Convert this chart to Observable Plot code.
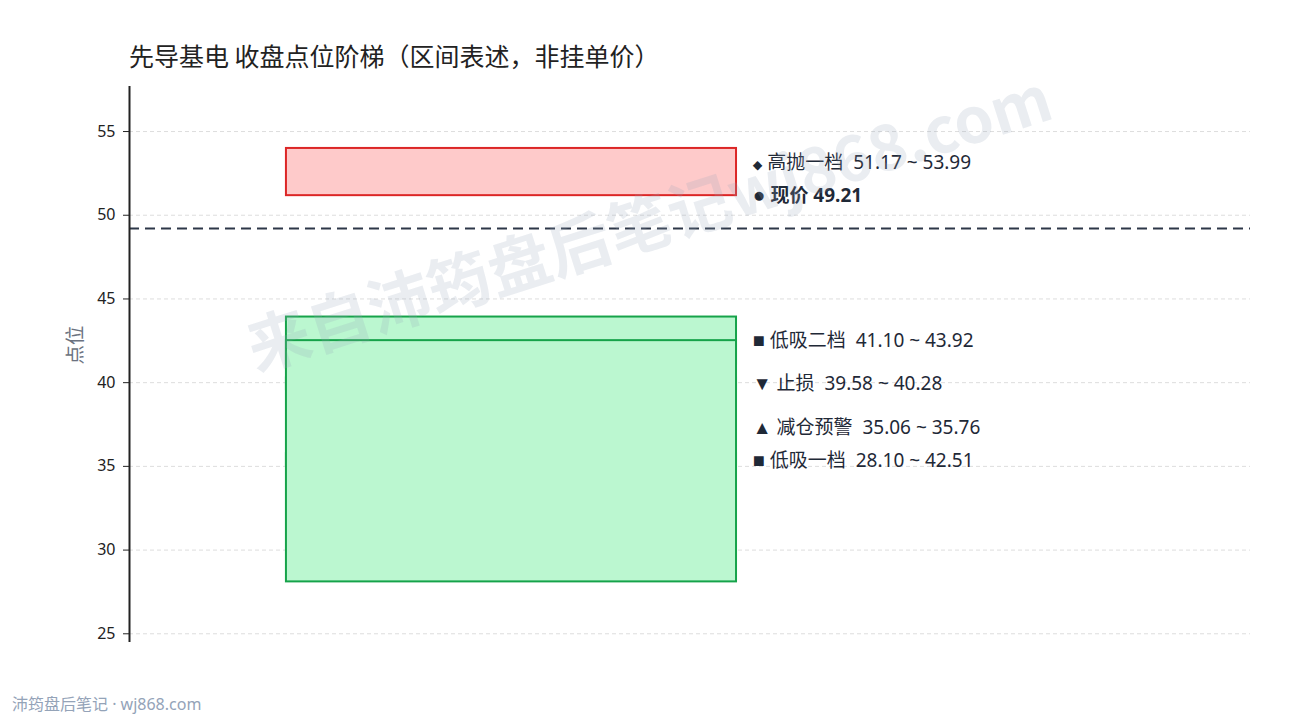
<!DOCTYPE html>
<html>
<head>
<meta charset="utf-8">
<script src="https://cdn.jsdelivr.net/npm/d3@7"></script>
<script src="https://cdn.jsdelivr.net/npm/@observablehq/plot@0.6"></script>
<style>
  html, body { margin: 0; padding: 0; background: #fff; }
  #wrap { position: relative; width: 1290px; height: 720px; overflow: hidden; font-family: "Noto Sans", "Noto Sans CJK SC", sans-serif; }
  #title { position: absolute; left: 129px; top: 40px; font-size: 25px; color: #222; white-space: nowrap; line-height: 1.2; font-family: "Noto Sans CJK SC", sans-serif; }
  #chart { position: absolute; left: 0; top: 80px; }
  #footer { position: absolute; left: 12px; top: 695px; font-size: 16px; color: #94a3b8; white-space: nowrap; line-height: 1.2; }
</style>
</head>
<body>
<div id="wrap">
  <div id="title">先导基电 收盘点位阶梯（区间表述，非挂单价）</div>
  <div id="chart"></div>
  <div id="footer">沛筠盘后笔记 · wj868.com</div>
</div>
<script>
// ---- data ----
const levelNames   = ["高抛一档", "低吸二档", "止损", "减仓预警", "低吸一档"];
const levelLow     = [51.17, 41.10, 39.58, 35.06, 28.10];
const levelHigh    = [53.99, 43.92, 40.28, 35.76, 42.51];
const levelSymbols = ["◆", "■", "▼", "▲", "■"];
const levelKinds   = ["sell", "buy", "stop", "warn", "buy"];
const currentPrice = 49.21;
const currentLabel = "现价";
const currentSymbol = "●";
const yTicks = [25, 30, 35, 40, 45, 50, 55];
const watermark = "来自沛筠盘后笔记wj868.com";

// ---- layout / style ----
const W = 1290, H = 580;
const mTop = 6, mBottom = 18, mLeft = 129, mRight = 40;
const yDomain = [24.48, 57.69];
const boxX1 = 0.14, boxX2 = 0.5415, labelX = 0.556;
const kindFill   = {sell: "#fecaca", buy: "#bbf7d0", stop: "none", warn: "none"};
const kindStroke = {sell: "#dc2626", buy: "#16a34a", stop: "#16a34a", warn: "#16a34a"};
const drawOrder  = {stop: 0, warn: 1, sell: 4};
const symbolStyle = {
  "◆": "font-family:'DejaVu Sans';font-size:12.5px",
  "■": "font-family:'Liberation Sans';font-size:20px",
  "▼": "font-family:'Liberation Sans';font-size:19px",
  "▲": "font-family:'Liberation Sans';font-size:19px",
  "●": "font-family:'Liberation Sans';font-size:21px"
};

const levels = levelNames.map((name, i) => ({
  name, low: levelLow[i], high: levelHigh[i], sym: levelSymbols[i], kind: levelKinds[i],
  order: drawOrder[levelKinds[i]] ?? (2 + (levelHigh[i] > 43 ? 0 : 1)),
  text: `${levelSymbols[i]} ${name}\u00a0\u00a0${levelLow[i].toFixed(2)} ~ ${levelHigh[i].toFixed(2)}`
}));
const rects = [...levels].sort((a, b) => a.order - b.order);

// label de-overlap in pixel space
const yS = Plot.scale({y: {type: "linear", domain: yDomain, range: [H - mBottom, mTop]}});
const gap = 33;
const labels = levels.map(d => ({text: d.text, bold: false, py: yS.apply((d.low + d.high) / 2)}));
labels.push({text: `${currentSymbol} ${currentLabel} ${currentPrice.toFixed(2)}`, bold: true, py: yS.apply(currentPrice) - gap});
labels.sort((a, b) => a.py - b.py);
for (let i = labels.length - 2; i >= 0; i--) labels[i].py = Math.min(labels[i].py, labels[i + 1].py - gap);
labels.forEach(d => d.y = yS.invert(d.py));

const labelFont = "'Noto Sans', 'Noto Sans CJK SC', sans-serif";
const chart = Plot.plot({
  width: W, height: H,
  marginTop: mTop, marginBottom: mBottom, marginLeft: mLeft, marginRight: mRight,
  style: {fontFamily: labelFont, background: "transparent"},
  x: {domain: [0, 1], axis: null},
  y: {domain: yDomain, axis: null},
  marks: [
    Plot.gridY(yTicks, {stroke: "#dddddd", strokeOpacity: 1, strokeDasharray: "4,3", strokeWidth: 1}),
    Plot.rect(rects, {
      x1: () => boxX1, x2: () => boxX2, y1: "low", y2: "high",
      fill: d => kindFill[d.kind], stroke: d => kindStroke[d.kind], strokeWidth: 2
    }),
    Plot.ruleY([currentPrice], {stroke: "#2d3748", strokeWidth: 2, strokeDasharray: "10,6"}),
    Plot.ruleX([0], {stroke: "#222", strokeWidth: 2}),
    Plot.axisY(yTicks, {tickSize: 6, tickPadding: 8, fontSize: 16, label: null, stroke: "#222", fill: "#222", fontFamily: "'Noto Sans', sans-serif"}),
    Plot.text(["点位"], {frameAnchor: "left", dx: -54, rotate: -90, fontSize: 19.5, fill: "#6b7280", fontFamily: "'Noto Sans CJK SC', sans-serif"}),
    Plot.text(labels.filter(d => !d.bold), {x: () => labelX, y: "y", text: "text", textAnchor: "start", fontSize: 19, fill: "#1f2937", className: "lvl-label"}),
    Plot.text(labels.filter(d => d.bold), {x: () => labelX, y: "y", text: "text", textAnchor: "start", fontSize: 19, fontWeight: "bold", fill: "#1f2937", className: "lvl-label"}),
    Plot.text([watermark], {frameAnchor: "middle", dx: -40, dy: -139, rotate: -17.6, fontSize: 63, fontWeight: "bold", fill: "#94a3b8", fillOpacity: 0.2, fontFamily: "'Noto Sans CJK SC', sans-serif"})
  ]
});

// give the leading marker glyph its own font so it renders small like the reference
d3.select(chart).selectAll(".lvl-label text").each(function () {
  const t = this.textContent;
  const sym = t[0];
  const rest = t.slice(1);
  const sel = d3.select(this);
  sel.text(null);
  sel.append("tspan").attr("style", symbolStyle[sym] || "").text(sym);
  sel.append("tspan").text(rest);
});

document.getElementById("chart").appendChild(chart);
</script>
</body>
</html>
